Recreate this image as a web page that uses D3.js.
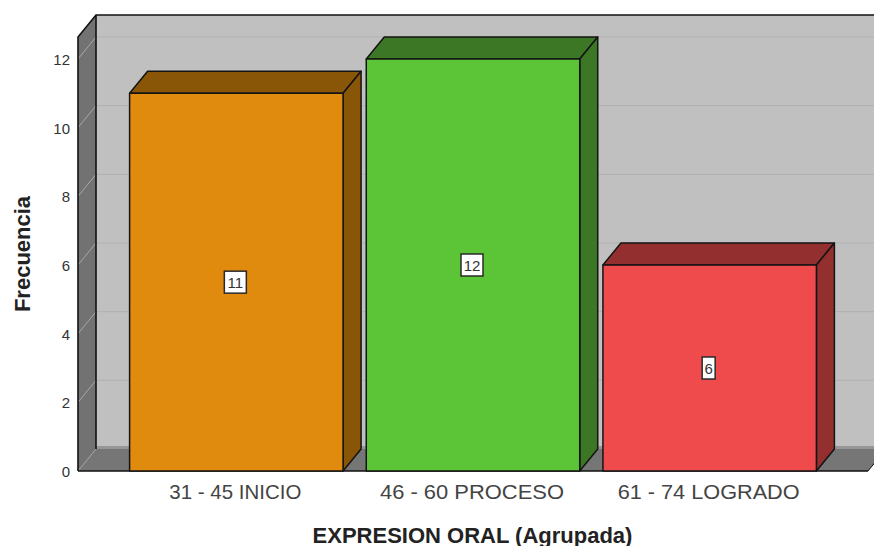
<!DOCTYPE html>
<html>
<head>
<meta charset="utf-8">
<script src="https://cdn.jsdelivr.net/npm/d3@7"></script>
<style>
html, body { margin: 0; padding: 0; background: #fff; overflow: hidden; }
text { font-family: "Liberation Sans", Arial, sans-serif; }
</style>
</head>
<body>
<div class="wrapper"></div>
<script>
width = 874;
height = 546;

categories = ["31 - 45 INICIO", "46 - 60 PROCESO", "61 - 74 LOGRADO"];
counts = [11, 12, 6];
frontColors = ["#e08a0e", "#5cc437", "#ef4b4d"];
sideColors = ["#895607", "#3b7724", "#93302f"];
yTicks = [0, 2, 4, 6, 8, 10, 12];
xTitle = "EXPRESION ORAL (Agrupada)";
yTitle = "Frecuencia";

// depth of the 3D box
dx = 18;
dy = -22;

scaleX = d3.scaleBand().domain(categories).range([118, 828]).paddingInner(0.098).paddingOuter(0.049);
scaleY = d3.scaleLinear().domain([0, 12]).range([471, 59]);

// the original tick text is wider than Liberation at this size
tickLabelWidth = d3.scaleOrdinal().domain(categories).range([132, 184, 182]);

svg = d3.select(".wrapper")
  .append("svg")
  .attr("width", width)
  .attr("height", height)
  .style("display", "block");

function poly(pts) {
  return d3.line()(pts) + "Z";
}

var x0 = 78, x1 = 868, yBase = scaleY(0), yTop = 37;

/* Walls */
svg.append("rect")
  .attr("x", x0 + dx).attr("y", yTop + dy)
  .attr("width", width - x0 - dx + 30).attr("height", yBase - yTop)
  .attr("fill", "#c0c0c0");

// gridlines on the back wall and the left wall
svg.append("g").selectAll("path")
  .data(yTicks.filter(function (d) { return d > 0; }))
  .enter().append("path")
  .attr("d", function (d) { return "M" + (x0 + dx) + "," + (scaleY(d) + dy) + "H" + (width + 5); })
  .attr("stroke", "#b2b2b2")
  .attr("stroke-width", 1.2);

svg.append("path")
  .attr("d", poly([[x0, yBase], [x0, yTop], [x0 + dx, yTop + dy], [x0 + dx, yBase + dy]]))
  .attr("fill", "#727272");

svg.append("g").selectAll("path")
  .data(yTicks.filter(function (d) { return d > 0; }))
  .enter().append("path")
  .attr("d", function (d) { return "M" + x0 + "," + scaleY(d) + "L" + (x0 + dx) + "," + (scaleY(d) + dy); })
  .attr("stroke", "#a8a8a8")
  .attr("stroke-width", 1);

/* Floor */
svg.append("path")
  .attr("d", poly([[x0, yBase], [x0 + dx, yBase + dy], [x1 + dx, yBase + dy], [x1, yBase]]))
  .attr("fill", "#767676");
svg.append("path")
  .attr("d", "M" + x0 + "," + yBase + "L" + (x0 + dx) + "," + (yBase + dy))
  .attr("stroke", "#a0a0a0")
  .attr("stroke-width", 1);
svg.append("rect")
  .attr("x", x0 + dx).attr("y", yBase + dy - 3)
  .attr("width", width - x0 - dx).attr("height", 3)
  .attr("fill", "#969696");

/* Outlines */
svg.append("path")
  .attr("d", "M" + x0 + "," + yBase + "V" + yTop + "L" + (x0 + dx) + "," + (yTop + dy) + "H" + (width + 5))
  .attr("fill", "none").attr("stroke", "#111").attr("stroke-width", 1.6);
svg.append("path")
  .attr("d", "M" + (x0 + dx) + "," + (yTop + dy) + "V" + (yBase + dy))
  .attr("fill", "none").attr("stroke", "#111").attr("stroke-width", 1.6);
svg.append("path")
  .attr("d", "M" + x0 + "," + yBase + "H" + x1)
  .attr("fill", "none").attr("stroke", "#111").attr("stroke-width", 1.6);
svg.append("path")
  .attr("d", "M" + x1 + "," + yBase + "L" + (x1 + dx) + "," + (yBase + dy))
  .attr("fill", "none").attr("stroke", "#111").attr("stroke-width", 1);

/* Bars */
var bars = svg.selectAll(".bar")
  .data(categories)
  .enter().append("g")
  .classed("bar", true);

function barStyle(sel) {
  sel.attr("stroke", "#141414").attr("stroke-width", 1.5).attr("stroke-linejoin", "round");
}

bars.append("path")
  .attr("d", function (d, i) {
    var l = scaleX(d), r = l + scaleX.bandwidth(), t = scaleY(counts[i]);
    return poly([[l, t], [l + dx, t + dy], [r + dx, t + dy], [r, t]]);
  })
  .attr("fill", function (d, i) { return sideColors[i]; })
  .call(barStyle);

bars.append("path")
  .attr("d", function (d, i) {
    var r = scaleX(d) + scaleX.bandwidth(), t = scaleY(counts[i]);
    return poly([[r, t], [r + dx, t + dy], [r + dx, yBase + dy], [r, yBase]]);
  })
  .attr("fill", function (d, i) { return sideColors[i]; })
  .call(barStyle);

bars.append("rect")
  .attr("x", function (d) { return scaleX(d); })
  .attr("y", function (d, i) { return scaleY(counts[i]); })
  .attr("width", scaleX.bandwidth())
  .attr("height", function (d, i) { return yBase - scaleY(counts[i]); })
  .attr("fill", function (d, i) { return frontColors[i]; })
  .call(barStyle);

/* Value labels */
var labels = bars.append("g")
  .attr("transform", function (d, i) {
    return "translate(" + (scaleX(d) + scaleX.bandwidth() / 2 - 1) + "," + ((scaleY(counts[i]) + yBase) / 2) + ")";
  });
labels.append("rect")
  .attr("x", function (d, i) { return counts[i] > 9 ? -11 : -6.5; })
  .attr("width", function (d, i) { return counts[i] > 9 ? 22 : 13; })
  .attr("y", -11)
  .attr("height", 22)
  .attr("fill", "#fff")
  .attr("stroke", "#2a2a2a")
  .attr("stroke-width", 1.5);
labels.append("text")
  .attr("text-anchor", "middle")
  .attr("y", 5.5)
  .attr("font-size", 15)
  .attr("fill", "#333")
  .text(function (d, i) { return counts[i]; });

/* Axis text */
svg.append("g").selectAll("text")
  .data(yTicks)
  .enter().append("text")
  .attr("x", 70)
  .attr("y", function (d) { return scaleY(d) + 6; })
  .attr("text-anchor", "end")
  .attr("font-size", 15)
  .attr("fill", "#333")
  .text(function (d) { return d; });

svg.append("g").selectAll("text")
  .data(categories)
  .enter().append("text")
  .attr("x", function (d) { return scaleX(d) + scaleX.bandwidth() / 2 - 1; })
  .attr("y", 499)
  .attr("text-anchor", "middle")
  .attr("font-size", 21)
  .attr("textLength", function (d) { return tickLabelWidth(d); })
  .attr("lengthAdjust", "spacingAndGlyphs")
  .attr("fill", "#444")
  .text(function (d) { return d; });

svg.append("text")
  .attr("x", 472.5)
  .attr("y", 543)
  .attr("text-anchor", "middle")
  .attr("font-size", 22)
  .attr("font-weight", "bold")
  .attr("fill", "#222")
  .text(xTitle);

svg.append("text")
  .attr("transform", "translate(30,254) rotate(-90)")
  .attr("text-anchor", "middle")
  .attr("font-size", 22)
  .attr("font-weight", "bold")
  .attr("fill", "#222")
  .text(yTitle);
</script>
</body>
</html>
